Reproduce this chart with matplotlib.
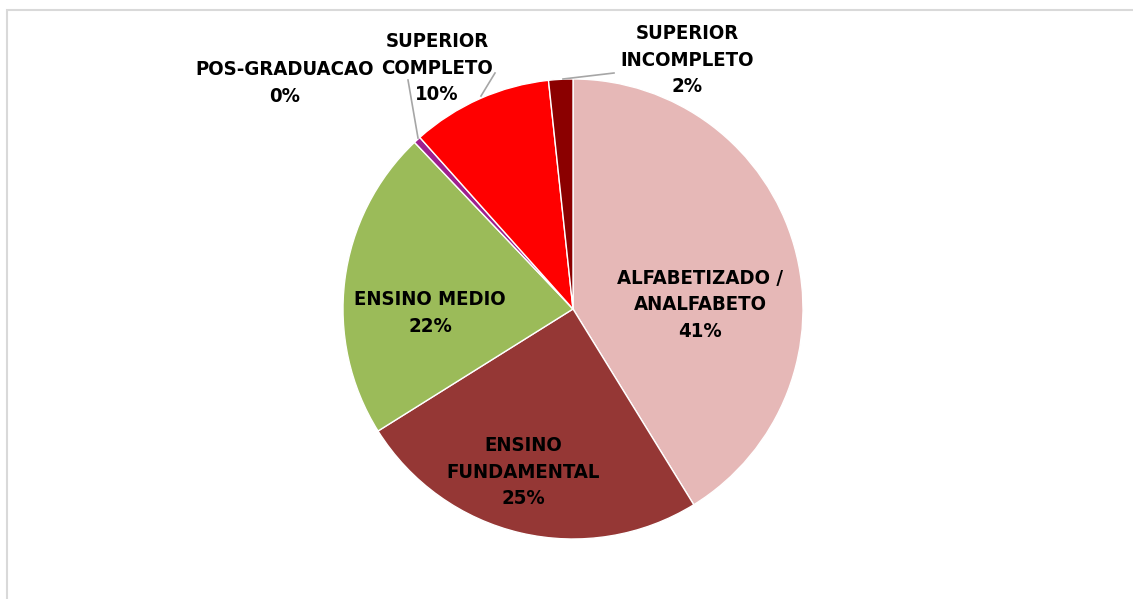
import matplotlib.pyplot as plt
from matplotlib.patches import Rectangle

categories = ['ALFABETIZADO /\nANALFABETO', 'ENSINO\nFUNDAMENTAL', 'ENSINO MEDIO',
              'POS-GRADUACAO', 'SUPERIOR\nCOMPLETO', 'SUPERIOR\nINCOMPLETO']
values = [41.2, 24.9, 21.8, 0.5, 9.9, 1.7]
colors = ['#E6B8B7', '#953735', '#9BBB59', '#9E1F8E', '#FF0000', '#8B0000']

plt.rcParams['font.family'] = ['DejaVu Sans']

W, H = 1133, 599
fig = plt.figure(figsize=(W / 100, H / 100), dpi=100)
ax = fig.add_axes([0, 0, 1, 1])

# chart border
fig.patches.append(Rectangle((7 / W, -0.02), 1.05, (H - 10) / H + 0.02, transform=fig.transFigure,
                             fill=False, edgecolor='#D9D9D9', linewidth=1.5))

cx, cy, r = 573, H - 309, 230
wedges, _ = ax.pie(values, colors=colors, startangle=90, counterclock=False,
                   center=(cx, cy), radius=r, frame=True,
                   wedgeprops={'edgecolor': 'white', 'linewidth': 1})
ax.set_xlim(0, W)
ax.set_ylim(0, H)
ax.set_aspect('equal')
ax.axis('off')

total = sum(values)
pcts = ['%.0f%%' % (v / total * 100) for v in values]

# label positions in pixels (x, y from top)
label_pos = [(700, 305), (523, 472), (430, 313), (285, 83), (437, 68), (687, 60)]
for lab, pct, (x, y) in zip(categories, pcts, label_pos):
    ax.text(x, H - y, lab + '\n' + pct, ha='center', va='center', fontsize=14.6,
            fontweight='bold', fontstretch='condensed', linespacing=1.5, color='black')

# leader lines
lc = '#A6A6A6'
ax.plot([408, 418], [H - 80, H - 138], color=lc, lw=1.2)
ax.plot([495, 481], [H - 73, H - 96], color=lc, lw=1.2)
ax.plot([563, 614], [H - 79, H - 73], color=lc, lw=1.2)

fig.savefig('out.png', dpi=100)
